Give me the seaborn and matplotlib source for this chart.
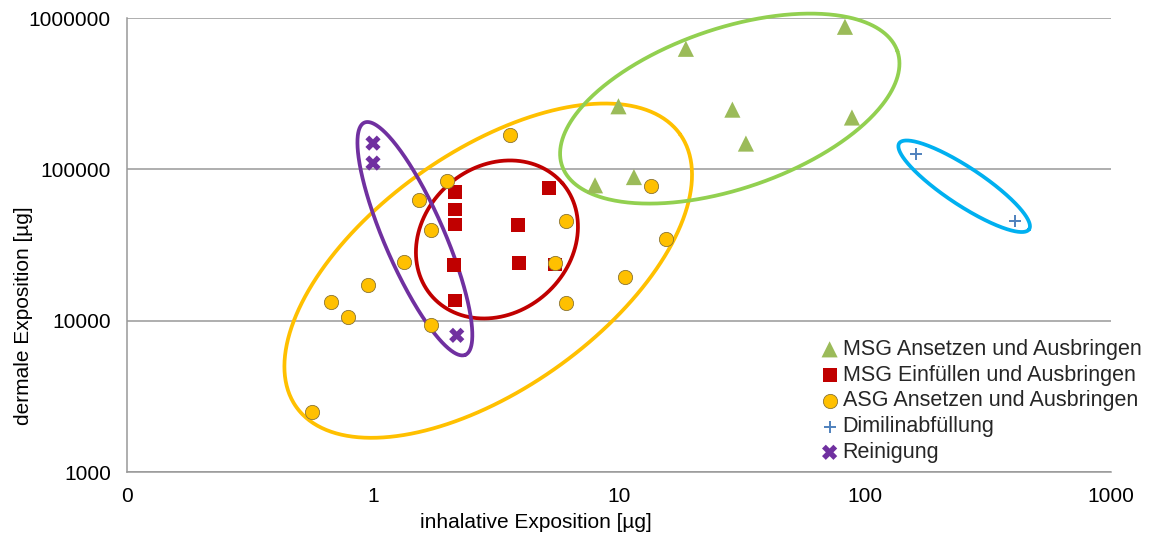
import numpy as np
import matplotlib
matplotlib.use("Agg")
import matplotlib.pyplot as plt
import seaborn as sns

# Measured exposures per work step (inhalative in µg, dermal in µg)
msg_ansetzen_x = [82.9, 18.7, 9.95, 28.9, 88.5, 32.8, 11.5, 7.99]
msg_ansetzen_y = [875000, 626000, 261000, 248000, 220000, 148000, 88900, 78400]

msg_einfuellen_x = [2.16, 2.16, 2.16, 2.14, 2.16, 3.90, 3.93, 5.18, 5.51]
msg_einfuellen_y = [70800, 54300, 43200, 23200, 13600, 42600, 24000, 75200, 23500]

asg_x = [3.60, 1.99, 1.54, 1.72, 1.34, 0.957, 0.673, 0.794, 1.72, 0.563,
         6.09, 5.51, 6.07, 10.6, 13.5, 15.5]
asg_y = [168700, 83600, 63000, 39500, 24600, 17300, 13370, 10600, 9400, 2500,
         45500, 24100, 13100, 19300, 77200, 34400]

dimilin_x = [161, 407]
dimilin_y = [127000, 45500]

reinigung_x = [1.0, 1.0, 2.19]
reinigung_y = [149000, 110000, 8000]

series_labels = ["MSG Ansetzen und Ausbringen", "MSG Einfüllen und Ausbringen",
                 "ASG Ansetzen und Ausbringen", "Dimilinabfüllung", "Reinigung"]

x_tick_values = [0.1, 1, 10, 100, 1000]
x_tick_labels = ["0", "1", "10", "100", "1000"]
y_tick_values = [1000, 10000, 100000, 1000000]
y_tick_labels = ["1000", "10000", "100000", "1000000"]

sns.set_theme(style="white")
plt.rcParams["font.family"] = ["Liberation Sans", "DejaVu Sans"]

W, H = 1151, 536
fig = plt.figure(figsize=(W / 100, H / 100), dpi=100)
ax = fig.add_axes([127 / W, 1 - 472 / H, 984 / W, 454 / H])

GRID = "#989898"

styles = [
    dict(marker="^", s=135, color="#9BBB59", edgecolor="none", linewidth=0),
    dict(marker="s", s=100, color="#C00000", edgecolor="none", linewidth=0),
    dict(marker="o", s=105, color="#FFC000", edgecolor="#8a7434", linewidth=0.6),
    dict(marker="+", s=80, color="#4F81BD", linewidth=1.4),
    dict(marker="X", s=120, color="#7030A0", edgecolor="none", linewidth=0),
]
groups = [(msg_ansetzen_x, msg_ansetzen_y), (msg_einfuellen_x, msg_einfuellen_y),
          (asg_x, asg_y), (dimilin_x, dimilin_y), (reinigung_x, reinigung_y)]

for (gx, gy), label, st in zip(groups, series_labels, styles):
    sns.scatterplot(x=gx, y=gy, ax=ax, label=label, zorder=3, clip_on=False, **st)

ax.set_xscale("log")
ax.set_yscale("log")
ax.set_xlim(0.1, 1000)
ax.set_ylim(1000, 1000000)
ax.xaxis.set_major_locator(matplotlib.ticker.FixedLocator(x_tick_values))
ax.xaxis.set_major_formatter(matplotlib.ticker.FixedFormatter(x_tick_labels))
ax.yaxis.set_major_locator(matplotlib.ticker.FixedLocator(y_tick_values))
ax.yaxis.set_major_formatter(matplotlib.ticker.FixedFormatter(y_tick_labels))
ax.xaxis.set_minor_locator(matplotlib.ticker.NullLocator())
ax.yaxis.set_minor_locator(matplotlib.ticker.NullLocator())

ax.yaxis.grid(True, color=GRID, linewidth=1.1)
ax.xaxis.grid(False)
ax.set_axisbelow(True)
for side in ("top", "right"):
    ax.spines[side].set_visible(False)
for side in ("left", "bottom"):
    ax.spines[side].set_color(GRID)
    ax.spines[side].set_linewidth(1.1)
ax.tick_params(axis="both", which="major", direction="out", length=3.6,
               width=1.1, color=GRID, labelsize=15, labelcolor="black")
ax.tick_params(axis="y", pad=8)
ax.tick_params(axis="x", pad=7)

ax.set_xlabel("inhalative Exposition [µg]", fontsize=15, color="black")
ax.set_ylabel("dermale Exposition [µg]", fontsize=15, color="black")
ax.xaxis.set_label_coords(0.4157, -0.09)
ax.yaxis.set_label_coords(-0.0955, 0.3436)

# Outline ellipses around each group, defined in screen pixels around a data centre
ellipses = [
    dict(center=(2.94, 21400), a=235.4, b=118.6, angle=35.4, color="#FFC000"),
    dict(center=(3.19, 34400), a=86.3, b=73.2, angle=40.6, color="#C00000"),
    dict(center=(1.48, 34800), a=126.6, b=29.9, angle=-66.5, color="#7030A0"),
    dict(center=(28.2, 252000), a=177.2, b=80.1, angle=18.85, color="#92D050"),
    dict(center=(253, 77300), a=77.9, b=18.8, angle=-33.5, color="#00B0F0"),
]
bbox = ax.get_window_extent()
px_per_dec_x = bbox.width / 4.0
px_per_dec_y = bbox.height / 3.0
t = np.linspace(0, 2 * np.pi, 500)
for e in ellipses:
    th = np.deg2rad(e["angle"])
    dx = e["a"] * np.cos(t) * np.cos(th) - e["b"] * np.sin(t) * np.sin(th)
    dy = e["a"] * np.cos(t) * np.sin(th) + e["b"] * np.sin(t) * np.cos(th)
    lx = np.log10(e["center"][0]) + dx / px_per_dec_x
    ly = np.log10(e["center"][1]) + dy / px_per_dec_y
    ax.plot(10 ** lx, 10 ** ly, color=e["color"], linewidth=2.7, zorder=2,
            solid_capstyle="round", clip_on=False)

ax.legend(loc="upper left", bbox_to_anchor=(821 / W, 1 - 339 / H),
          bbox_transform=fig.transFigure, frameon=False, fontsize=15.5,
          handlelength=0.8, handletextpad=0.2, labelspacing=0.22,
          borderpad=0, borderaxespad=0)

fig.savefig("out.png", dpi=100)
